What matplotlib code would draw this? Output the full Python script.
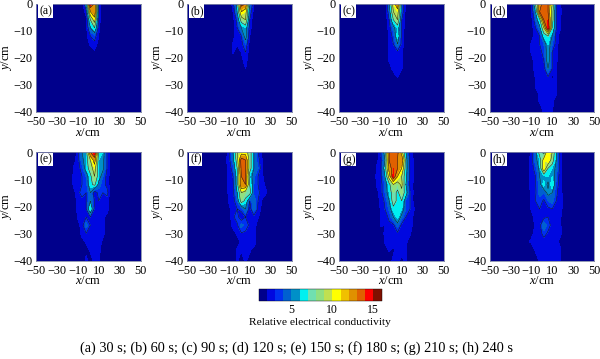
import numpy as np
import matplotlib
matplotlib.use("Agg")
import matplotlib.pyplot as plt
from matplotlib.colors import ListedColormap, BoundaryNorm
from matplotlib.cm import ScalarMappable

plt.rcParams['font.family'] = ['Liberation Serif', 'DejaVu Sans']
plt.rcParams['mathtext.fontset'] = 'custom'
plt.rcParams['mathtext.it'] = 'Liberation Serif:italic'
plt.rcParams['mathtext.rm'] = 'Liberation Serif'

x_cols = [-22, -18, -14, -10, -6, -2, 2, 6, 10, 14, 18, 22, 26]
y_rows = [0, -3, -6, -9, -12, -15, -18, -21, -24, -27, -30, -33, -36, -40]
x_ticks = [-50, -30, -10, 10, 30, 50]
y_ticks = [0, -10, -20, -30, -40]
panel_names = ['(a)', '(b)', '(c)', '(d)', '(e)', '(f)', '(g)', '(h)']
caption = "(a) 30 s; (b) 60 s; (c) 90 s; (d) 120 s; (e) 150 s; (f) 180 s; (g) 210 s; (h) 240 s"
bar_label = "Relative electrical conductivity"
bar_ticks = [5, 10, 15]
levels = list(range(1, 17))
line_levels = [3, 5, 7, 9, 11, 13, 15]
colors = ['#00008c', '#0008e0', '#0030f0', '#0060d0', '#0090c8', '#00f0f0', '#70e0b0', '#90e080',
          '#c0e050', '#ffff00', '#f0c000', '#e09000', '#e06000', '#ff0000', '#801000']

a = [[1,1,1,1,1,5,15,13,3,1,1,1,1],
     [1,1,1,1,1,2.6,11,13,3,1,1,1,1],
     [1,1,1,1,1,1.5,7,10,2.6,1,1,1,1],
     [1,1,1,1,1,1.5,5,7,2.2,1,1,1,1],
     [1,1,1,1,1,1.5,3,3.6,2,1,1,1,1],
     [1,1,1,1,1,1.3,2.2,2.6,1.5,1,1,1,1],
     [1,1,1,1,1,1,1,1.8,1,1,1,1,1],
     [1,1,1,1,1,1,1,1,1,1,1,1,1],
     [1,1,1,1,1,1,1,1,1,1,1,1,1],
     [1,1,1,1,1,1,1,1,1,1,1,1,1],
     [1,1,1,1,1,1,1,1,1,1,1,1,1],
     [1,1,1,1,1,1,1,1,1,1,1,1,1],
     [1,1,1,1,1,1,1,1,1,1,1,1,1],
     [1,1,1,1,1,1,1,1,1,1,1,1,1]]
b = [[1,1,1,1,2.5,6,14,13,5,2,1,1,1],
     [1,1,1,1,2,5,11,10,4,1.5,1,1,1],
     [1,1,1,1,1.5,3.5,8,9,3,1,1,1,1],
     [1,1,1,1,1.6,3,5,6,2.5,1,1,1,1],
     [1,1,1,1,1.7,2.5,3,6,2,1,1,1,1],
     [1,1,1,1,2.1,2.1,2.6,4,1.5,1,1,1,1],
     [1,1,1,1,2.1,1.5,2,3,1.3,1,1,1,1],
     [1,1,1,1,1,1,1.5,2.6,1,1,1,1,1],
     [1,1,1,1,1,1,1,2,1,1,1,1,1],
     [1,1,1,1,1,1,1,1,1,1,1,1,1],
     [1,1,1,1,1,1,1,1,1,1,1,1,1],
     [1,1,1,1,1,1,1,1,1,1,1,1,1],
     [1,1,1,1,1,1,1,1,1,1,1,1,1],
     [1,1,1,1,1,1,1,1,1,1,1,1,1]]
c = [[1,1,1,1,1,5,10,13,4,1.5,1,1,1],
     [1,1,1,1,1,4,9,10,4,1.5,1,1,1],
     [1,1,1,1,1,3,7,9,3,1.2,1,1,1],
     [1,1,1,1,1,2.5,4.5,6,3,1.2,1,1,1],
     [1,1,1,1,1,2.1,3.5,6.5,2.6,1,1,1,1],
     [1,1,1,1,1,2.1,3,5,2.6,1,1,1,1],
     [1,1,1,1,1,2.2,2.4,2.6,2.3,1,1,1,1],
     [1,1,1,1,1,2.1,2.6,2.6,2.1,1,1,1,1],
     [1,1,1,1,1,1.5,2.3,2.5,2.1,1,1,1,1],
     [1,1,1,1,1,1,1.5,2.1,1.2,1,1,1,1],
     [1,1,1,1,1,1,1,1,1,1,1,1,1],
     [1,1,1,1,1,1,1,1,1,1,1,1,1],
     [1,1,1,1,1,1,1,1,1,1,1,1,1],
     [1,1,1,1,1,1,1,1,1,1,1,1,1]]
d = [[1,1,1,2.1,7,12,14,13,9,3,2,1,1],
     [1,1,1,1.8,5,13,14,13,8,3,2.2,1,1],
     [1,1,1,1.5,4,6.5,13,14,8,3,2,1,1],
     [1,1,1,1.3,3,4.5,9,15,7,3,2,1,1],
     [1,1,1,1.5,2.5,3,6,7,5,2.5,1.5,1,1],
     [1,1,1,2.1,2.2,3,4,6,4,2.5,1.2,1,1],
     [1,1,1,2.1,2.2,2.5,3.5,6,3,2.5,1,1,1],
     [1,1,1,1.5,2.5,2.5,3,6,3,2.2,1,1,1],
     [1,1,1,1.3,2.5,2.2,2.5,5,3,2,1,1,1],
     [1,1,1,1.2,2.1,2.2,2.5,3,1.8,2.1,1,1,1],
     [1,1,1,1.2,2.1,2.2,2.5,2.5,2.5,2.1,1,1,1],
     [1,1,1,1.2,1.8,2.1,2.3,2.3,2.2,2.1,1,1,1],
     [1,1,1,1,1.5,2.1,2.2,2.2,2.2,1.5,1,1,1],
     [1,1,1,1,1,1.3,2.1,2.1,2.1,1,1,1,1]]
e = [[1,1,1,2.5,5,6,13,15,6.5,6,3,1.5,1],
     [1,1,1.5,2.5,4.5,6,9,12,6,5.5,3,1.5,1],
     [1,1,2.1,2.5,3.5,6,8,10,6,5.5,3,1.5,1],
     [1,1,2.2,2.5,3,4,6.5,9,6,4,2.6,1.2,1],
     [1,1,2.2,2.5,3,3.5,6.5,7.5,4.5,3.5,2.6,1.2,1],
     [1,1,1.5,2.6,3.5,3,5,2,3.5,3,3.5,1.2,1],
     [1,1,1.3,2.4,2.6,3,5,3,3,2.8,2.3,1.2,1],
     [1,1,1.2,2.3,2.5,3,7,2.5,2.6,2,2.5,1.2,1],
     [1,1,1,2.1,2.5,3,3,2.8,2.6,2.4,1.5,1,1],
     [1,1,1,1.5,2.5,4.5,3,2.6,2,2.4,1.3,1,1],
     [1,1,1,1.3,2.4,3,2.7,2.5,2.1,2.3,1.5,1,1],
     [1,1,1,1,1.5,2.2,2.5,2.5,2.4,1.8,1,1,1],
     [1,1,1,1,1,1.6,2.2,2.4,2.3,1.5,1,1,1],
     [1,1,1,1,1,2.3,1.5,2.3,2.2,1,1,1,1]]
f = [[1,1,1,2.5,5,9,10,10,8,5,3,1.5,1],
     [1,1,1.5,2.5,4.5,8,14,13,8,5,3.5,2,1],
     [1,1,1.2,2.4,3.5,7,13.5,13,8,5,4,2.2,1],
     [1,1,1.2,2.3,3,6,13,13.5,6,4.2,3,2.2,1],
     [1,1,1.2,2.3,2.8,6,13,13,7,4,3,2.5,1.5],
     [1,1,1.2,2.2,2.6,5,9,8,8,3.5,3.3,2.4,2.1],
     [1,1,1.2,2.1,2.5,4,8,6.5,3,5,3,1.8,1],
     [1,1,1,1.6,2.6,3,3.5,5,2.4,4.5,2.8,1.5,1],
     [1,1,1,1.3,2.8,3.5,2,3,2.6,2.6,2.1,1.2,1],
     [1,1,1,1.2,2.4,2.8,4.5,3.5,2.8,2.5,1.5,1,1],
     [1,1,1,1,1.5,2.2,2.9,2.8,2.5,2.3,1.4,1,1],
     [1,1,1,1,1.2,1.5,2.2,2.4,2.8,2.8,1.2,1,1],
     [1,1,1,1,1,2.1,2.1,2.2,2.2,1.6,1,1,1],
     [1,1,1,1,1,2.1,1.5,2.2,1.5,1,1,1,1]]
g = [[1,1,1.2,3,6,13,14,13.5,10,5,2.6,1.5,1],
     [1,1,1.6,2.8,5,13,14,13,13,6,2.6,1.8,1],
     [1,1,2.1,2.8,6,12,14,13,11,6,2.8,1.8,1],
     [1,1,2.2,2.8,5,10,14.5,11,9,5.5,2.8,1.8,1],
     [1,1,2.1,2.6,4,6.5,9,8,9.5,5,2.8,1.6,1],
     [1,1,1.5,2.6,4,6,8,6.5,8.5,6,3,1.6,1],
     [1,1,1.2,2.4,3.2,5,8,6.5,7,3.8,3,1.5,1],
     [1,1,1,2.2,3,4.2,6.5,6.6,6,4,3,2,1],
     [1,1,1,2.1,2.6,3.2,5,6.3,4.5,3,2.8,1.5,1],
     [1,1,1,2.1,2,2.8,2.7,4.5,2.6,2.9,2.5,1.5,1],
     [1,1,1,1.4,2.2,2.5,2.6,2.8,2.5,2.6,2.2,1,1],
     [1,1,1,1,2.1,2.4,2.7,2.6,2.5,2.2,1.5,1,1],
     [1,1,1,1,1.6,2.1,1.8,2.5,2.3,2.1,1,1,1],
     [1,1,1,1,1,1.6,2.2,2.2,1.8,2.2,1,1,1]]
h = [[1,1,1.2,2.1,4.5,8,6,11,9,5,2.2,1,1],
     [1,1,1.5,2.4,4.5,6,10,11,8,5,2.4,1,1],
     [1,1,1.5,2.5,3.5,5.5,11,7,6,4.5,2.4,1,1],
     [1,1,1.2,2.6,3,5,5.5,6,6,4,2.3,1,1],
     [1,1,1.2,2.6,2.9,4.5,6.5,4.5,7,3.5,2.4,1.2,1],
     [1,1,1,2.3,2.8,4.5,4,5.5,5,3.2,2.4,1.2,1],
     [1,1,1,2.2,3,3.5,2.8,4,4.5,3,2.5,1.4,1],
     [1,1,1,2.1,2.9,3,2.4,2.7,3,2.6,2.4,1.2,1],
     [1,1,1,1.6,2.4,2.6,2.6,3,2.1,2.5,2.1,1,1],
     [1,1,1,1.3,2.2,2.6,5,3.5,2.6,2.4,2.1,1,1],
     [1,1,1.3,1.8,2.2,2.5,3.5,2.8,1.9,2.3,2.2,1,1],
     [1,1,1.9,2.1,2.2,2.4,2.5,2.4,2.5,2.4,1.5,1,1],
     [1,1,1,1.6,2.1,2.3,2.4,1.9,2.3,2.4,2.1,1,1],
     [1,1,1,1,1.6,2.1,2.3,2.2,2.2,2.1,2.1,1,1]]
panels = [a, b, c, d, e, f, g, h]

W, H = 600, 359
left_px = [36, 187, 339, 489.5]
top_px = [3.5, 152]
ax_w, ax_h = 104.5, 108.5

fig = plt.figure(figsize=(W / 100, H / 100), dpi=100)
cmap = ListedColormap(colors)
norm = BoundaryNorm(levels, cmap.N)
xs = np.array(x_cols)

for k, z in enumerate(panels):
    row, col = k // 4, k % 4
    ax = fig.add_axes([left_px[col] / W, 1 - (top_px[row] + ax_h) / H, ax_w / W, ax_h / H])
    ax.set_facecolor(colors[0])
    ax.contourf(xs, y_rows, np.array(z), levels=levels, cmap=cmap, norm=norm)
    ax.contour(xs, y_rows, np.array(z), levels=line_levels, colors='#181818', linewidths=0.35)
    ax.set_xlim(-50, 50)
    ax.set_ylim(-40, 0)
    ax.set_xticks(x_ticks)
    ax.set_yticks(y_ticks)
    ax.tick_params(axis='x', length=0, pad=3, labelsize=8.8)
    ax.tick_params(axis='y', length=0, pad=2.5, labelsize=8.8)
    ax.set_xlabel('$x$/cm', fontsize=9, labelpad=-1)
    ax.set_ylabel('$y$/cm', fontsize=9)
    ax.yaxis.set_label_coords(-22 / ax_w, 0.5)
    for s in ax.spines.values():
        s.set_color('#8088a8')
        s.set_linewidth(0.6)
    ax.text(0.03, 0.93, panel_names[k], transform=ax.transAxes, fontsize=8.5, va='center',
            bbox=dict(facecolor='white', edgecolor='none', pad=0.6))

cax = fig.add_axes([258.5 / W, 1 - 301 / H, 123 / W, 12 / H])
cb = fig.colorbar(ScalarMappable(norm=norm, cmap=cmap), cax=cax, orientation='horizontal', spacing='proportional')
cb.set_ticks(bar_ticks)
cb.minorticks_off()
cb.ax.tick_params(which='both', length=0, pad=2, labelsize=8.5)
cb.outline.set_linewidth(0.3)
cb.set_label(bar_label, fontsize=8.2, labelpad=1.5)

fig.text(296 / W, 1 - 348 / H, caption, ha='center', va='center', fontsize=10.3)
fig.savefig('out.png', dpi=100)
